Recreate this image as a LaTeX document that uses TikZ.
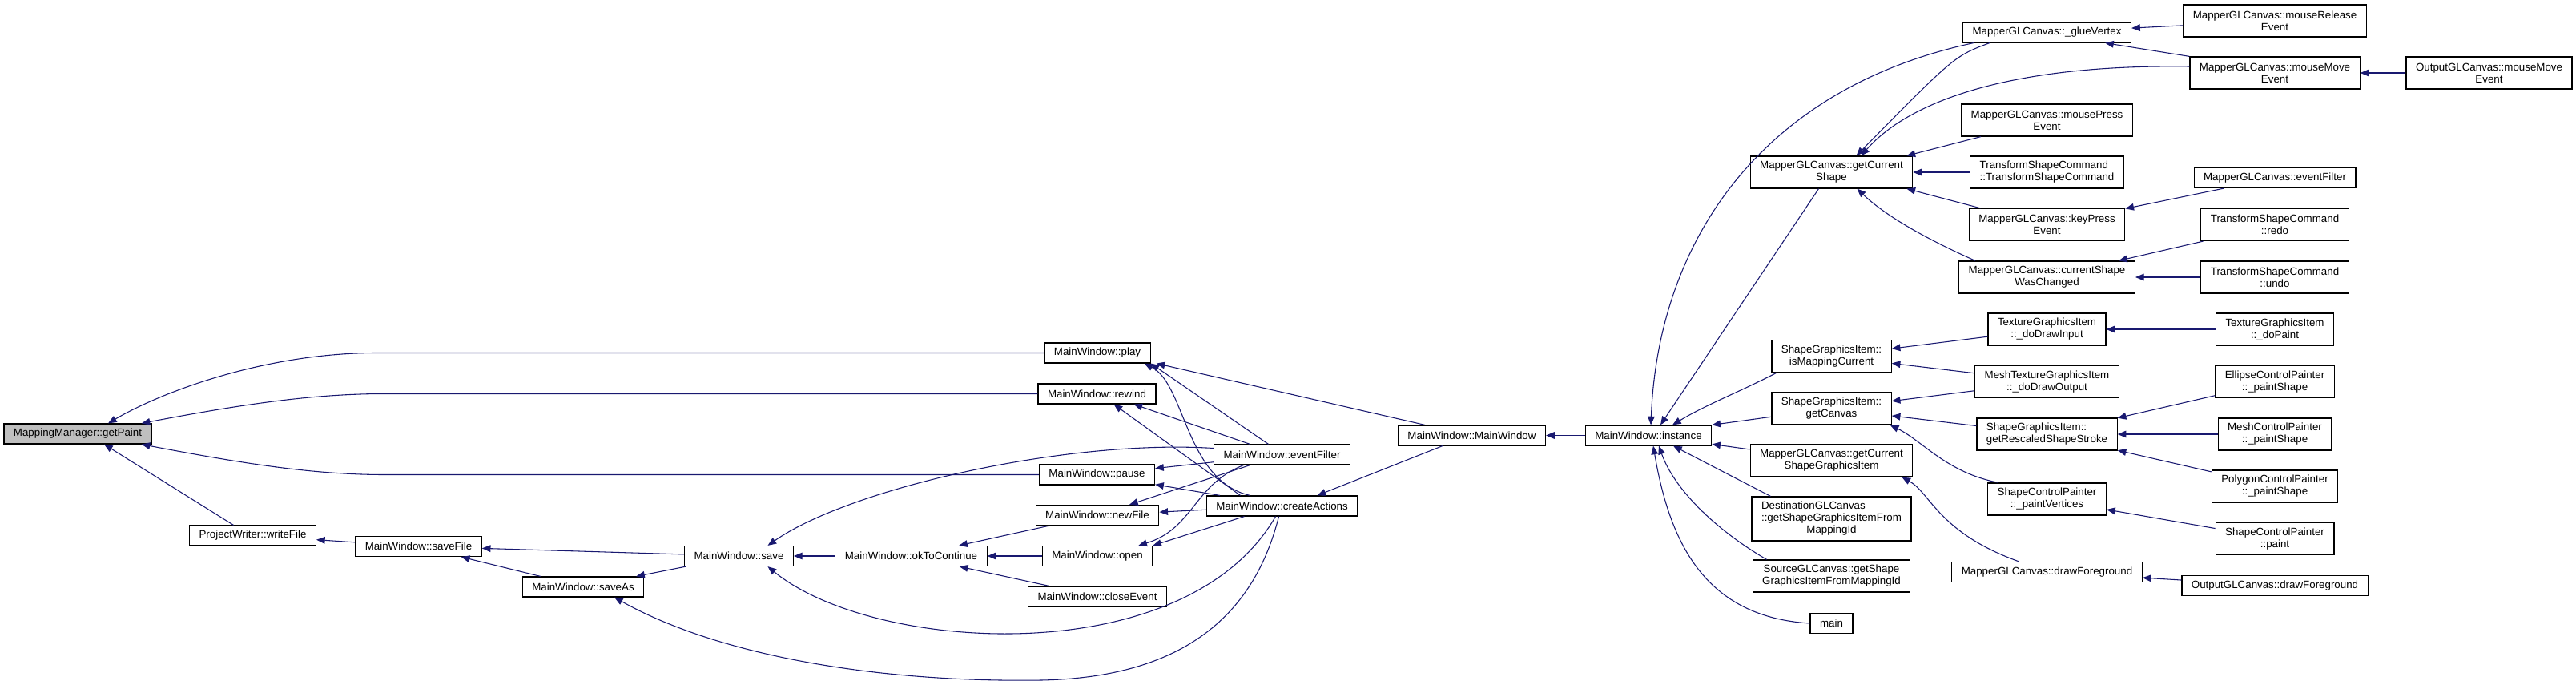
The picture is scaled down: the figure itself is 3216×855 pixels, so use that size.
\documentclass[tikz,border=0pt]{standalone}
\usepackage{fontspec}
\setmainfont{Liberation Sans}
\usetikzlibrary{arrows.meta,calc}
\definecolor{edgeblue}{HTML}{191970}
\definecolor{hilite}{HTML}{BFBFBF}
\tikzset{
  fn/.style={draw=black, line width=0.9pt, fill=white, inner xsep=9pt, inner ysep=2pt,
    minimum height=18.75pt, align=center, font=\fontsize{10pt}{11.25pt}\selectfont},
  two/.style={minimum height=30pt},
  three/.style={minimum height=41.25pt},
  link/.style={draw=edgeblue, line width=0.8pt, {Triangle[length=8pt,width=6.5pt]}-}
}
\begin{document}
\begin{tikzpicture}[x=0.75pt,y=-0.75pt]
\useasboundingbox (0,0) rectangle (3216,855);

% ===== Left part: getPaint and the MainWindow slots =====
\node[fn,fill=hilite] (paint) at (97,541.5) {MappingManager::getPaint};
\node[fn] (writeFile) at (315.5,668.5) {ProjectWriter::writeFile};
\node[fn] (saveFile) at (522.5,682) {MainWindow::saveFile};
\node[fn] (saveAs) at (728,732.5) {MainWindow::saveAs};
\node[fn] (save) at (922.5,694) {MainWindow::save};
\node[fn] (okToContinue) at (1137.5,694) {MainWindow::okToContinue};
\node[fn] (play) at (1370,440.5) {MainWindow::play};
\node[fn] (rewind) at (1369.5,491.5) {MainWindow::rewind};
\node[fn] (pause) at (1369.5,592.5) {MainWindow::pause};
\node[fn] (newFile) at (1370,643) {MainWindow::newFile};
\node[fn] (open) at (1370,694) {MainWindow::open};
\node[fn] (closeEvent) at (1370,744.5) {MainWindow::closeEvent};
\node[fn] (eventFilter) at (1600.5,567.5) {MainWindow::eventFilter};
\node[fn] (createActions) at (1600.5,631.5) {MainWindow::createActions};
\node[fn] (mainWin) at (1837.5,543.5) {MainWindow::MainWindow};
\node[fn] (instance) at (2058,543.5) {MainWindow::instance};

% ===== Callers of instance =====
\node[fn,two] (curShape) at (2286.5,215) {MapperGLCanvas::getCurrent\\Shape};
\node[fn,two] (isMapping) at (2286.5,444.5) {ShapeGraphicsItem::\\isMappingCurrent};
\node[fn,two] (getCanvas) at (2286.5,510) {ShapeGraphicsItem::\\getCanvas};
\node[fn,two] (curShapeItem) at (2286.5,575) {MapperGLCanvas::getCurrent\\ShapeGraphicsItem};
\node[fn,three] (destCanvas) at (2286.5,647.5) {\rlap{DestinationGLCanvas}\phantom{::getShapeGraphicsItemFrom}\\::getShapeGraphicsItemFrom\\MappingId};
\node[fn,two] (srcCanvas) at (2286.5,719) {SourceGLCanvas::getShape\\GraphicsItemFromMappingId};
\node[fn] (mainFn) at (2286.5,778) {main};

% ===== Third column =====
\node[fn] (glueVertex) at (2555.5,40.5) {MapperGLCanvas::\_glueVertex};
\node[fn,two] (mousePress) at (2555.5,150) {MapperGLCanvas::mousePress\\Event};
\node[fn,two,align=left] (tscCtor) at (2555.5,215) {TransformShapeCommand\\::TransformShapeCommand};
\node[fn,two] (keyPress) at (2555.5,280.5) {MapperGLCanvas::keyPress\\Event};
\node[fn,two] (shapeChanged) at (2555.5,346) {MapperGLCanvas::currentShape\\WasChanged};
\node[fn,two] (doDrawInput) at (2555.5,411) {TextureGraphicsItem\\::\_doDrawInput};
\node[fn,two] (doDrawOutput) at (2555.5,476.5) {MeshTextureGraphicsItem\\::\_doDrawOutput};
\node[fn,two,align=left] (rescaled) at (2555.5,542) {ShapeGraphicsItem::\\getRescaledShapeStroke};
\node[fn,two] (paintVertices) at (2555.5,623) {ShapeControlPainter\\::\_paintVertices};
\node[fn] (drawFg) at (2555.5,714) {MapperGLCanvas::drawForeground};

% ===== Fourth and fifth column =====
\node[fn,two] (mouseRelease) at (2840,26) {MapperGLCanvas::mouseRelease\\Event};
\node[fn,two] (mouseMove) at (2840,91) {MapperGLCanvas::mouseMove\\Event};
\node[fn,two] (outMouseMove) at (3107.5,91) {OutputGLCanvas::mouseMove\\Event};
\node[fn] (canvasFilter) at (2840,222) {MapperGLCanvas::eventFilter};
\node[fn,two] (redo) at (2840,280.5) {TransformShapeCommand\\::redo};
\node[fn,two] (undo) at (2840,346) {TransformShapeCommand\\::undo};
\node[fn,two] (doPaint) at (2840,411) {TextureGraphicsItem\\::\_doPaint};
\node[fn,two] (ellipse) at (2840,476.5) {EllipseControlPainter\\::\_paintShape};
\node[fn,two] (meshPainter) at (2840,542) {MeshControlPainter\\::\_paintShape};
\node[fn,two] (polygon) at (2840,607) {PolygonControlPainter\\::\_paintShape};
\node[fn,two] (scpPaint) at (2840,672.5) {ShapeControlPainter\\::paint};
\node[fn] (outDrawFg) at (2840,731) {OutputGLCanvas::drawForeground};

% ===== Calls into getPaint =====
\draw[link] ($(paint.north)+(38,0)$) .. controls (200,490) and (330,440.5) .. (470,440.5) -- (play.west);
\draw[link] ($(paint.north east)+(-13,0)$) .. controls (300,505) and (390,491.5) .. (480,491.5) -- (rewind.west);
\draw[link] ($(paint.south east)+(-13,0)$) .. controls (300,578) and (390,592.5) .. (480,592.5) -- (pause.west);
\draw[link] ($(paint.south)+(33,0)$) -- ($(writeFile.north)+(-24,0)$);

% ===== Saving =====
\draw[link] (writeFile) -- (saveFile);
\draw[link] (saveFile) -- (save);
\draw[link] (saveFile) -- (saveAs);
\draw[link] (saveAs) -- (save);
\draw[link] (save) -- (okToContinue);
\draw[link] ($(save.north)+(36,0)$) .. controls (1060,610) and (1330,548) .. ($(eventFilter.west)+(0,-8)$);
\draw[link] ($(save.south)+(36,0)$) .. controls (1090,815) and (1480,840) .. ($(createActions.south)+(-8,0)$);
\draw[link] ($(saveAs.south)+(39,0)$) .. controls (900,820) and (1100,852) .. (1300,849)
  .. controls (1450,846) and (1560,790) .. ($(createActions.south)+(-4,0)$);
\draw[link] (okToContinue) -- (newFile);
\draw[link] (okToContinue) -- (open);
\draw[link] (okToContinue) -- (closeEvent);

% ===== Slots =====
\draw[link] (play.south east) -- ($(eventFilter.north)+(-17,0)$);
\draw[link] ($(play.south east)+(-8,0)$) .. controls (1480,480) and (1480,600) .. ($(createActions.north)+(-40,0)$);
\draw[link] ($(play.south east)+(7,0)$) -- ($(mainWin.north west)+(34,0)$);
\draw[link] ($(rewind.south)+(46,0)$) -- ($(eventFilter.north)+(-40,0)$);
\draw[link] ($(rewind.south)+(21,0)$) -- ($(createActions.north)+(-52,0)$);
\draw[link] (pause) -- (eventFilter);
\draw[link] (pause) -- (createActions);
\draw[link] (newFile) -- (eventFilter);
\draw[link] (newFile) -- (createActions);
\draw[link] ($(open.north east)+(-18,0)$) .. controls (1490,660) and (1490,605) .. ($(eventFilter.south)+(-48,0)$);
\draw[link] (open.north east) -- ($(createActions.south)+(-47,0)$);
\draw[link] ($(createActions.north)+(44,0)$) -- ($(mainWin.south west)+(56,0)$);
\draw[link] (mainWin) -- (instance);

% ===== Calls into instance =====
\draw[link] ($(instance.north)+(3,0)$) .. controls (2070,300) and (2200,110) .. ($(glueVertex.south west)+(14,0)$);
\draw[link] ($(instance.north)+(15,0)$) -- ($(curShape.south)+(-16,0)$);
\draw[link] ($(instance.north)+(30,0)$) .. controls (2130,505) and (2170,490) .. ($(isMapping.south west)+(7,0)$);
\draw[link] (instance.north east) -- (getCanvas);
\draw[link] (instance) -- (curShapeItem);
\draw[link] ($(instance.south)+(31,0)$) -- ($(destCanvas.north west)+(24,0)$);
\draw[link] ($(instance.south)+(13,0)$) .. controls (2090,610) and (2140,660) .. ($(srcCanvas.north west)+(18,0)$);
\draw[link] ($(instance.south)+(6,0)$) .. controls (2085,680) and (2130,770) .. (mainFn.west);

% ===== Calls into getCurrentShape =====
\draw[link] ($(curShape.north)+(31,0)$) .. controls (2440,70) .. ($(glueVertex.south west)+(34,0)$);
\draw[link] ($(curShape.north)+(37,0)$) .. controls (2380,130) and (2500,80) .. ($(mouseMove.west)+(0,-8)$);
\draw[link] ($(curShape.north east)+(-8,0)$) -- ($(mousePress.south west)+(25,0)$);
\draw[link] (curShape) -- (tscCtor);
\draw[link] ($(curShape.south east)+(-8,0)$) -- ($(keyPress.north west)+(15,0)$);
\draw[link] ($(curShape.south)+(32,0)$) .. controls (2360,275) and (2420,305) .. ($(shapeChanged.north west)+(21,0)$);

% ===== Canvas events and commands =====
\draw[link] (glueVertex) -- (mouseRelease);
\draw[link] ($(glueVertex.south east)+(-33,0)$) -- (mouseMove.north west);
\draw[link] (mouseMove) -- (outMouseMove);
\draw[link] (keyPress) -- (canvasFilter);
\draw[link] (shapeChanged) -- (redo);
\draw[link] (shapeChanged) -- (undo);

% ===== Graphics items and painters =====
\draw[link] (isMapping) -- (doDrawInput);
\draw[link] (isMapping) -- (doDrawOutput);
\draw[link] (getCanvas) -- (doDrawOutput);
\draw[link] (getCanvas) -- (rescaled);
\draw[link] ($(getCanvas.south east)+(-2,0)$) .. controls (2400,550) and (2430,590) .. ($(paintVertices.north west)+(14,0)$);
\draw[link] (doDrawInput) -- (doPaint);
\draw[link] (rescaled) -- (ellipse);
\draw[link] (rescaled) -- (meshPainter);
\draw[link] (rescaled) -- (polygon);
\draw[link] (paintVertices) -- (scpPaint);
\draw[link] ($(curShapeItem.south east)+(-14,0)$) .. controls (2410,615) and (2420,665) .. ($(drawFg.north)+(-35,0)$);
\draw[link] (drawFg) -- (outDrawFg);

\end{tikzpicture}
\end{document}
